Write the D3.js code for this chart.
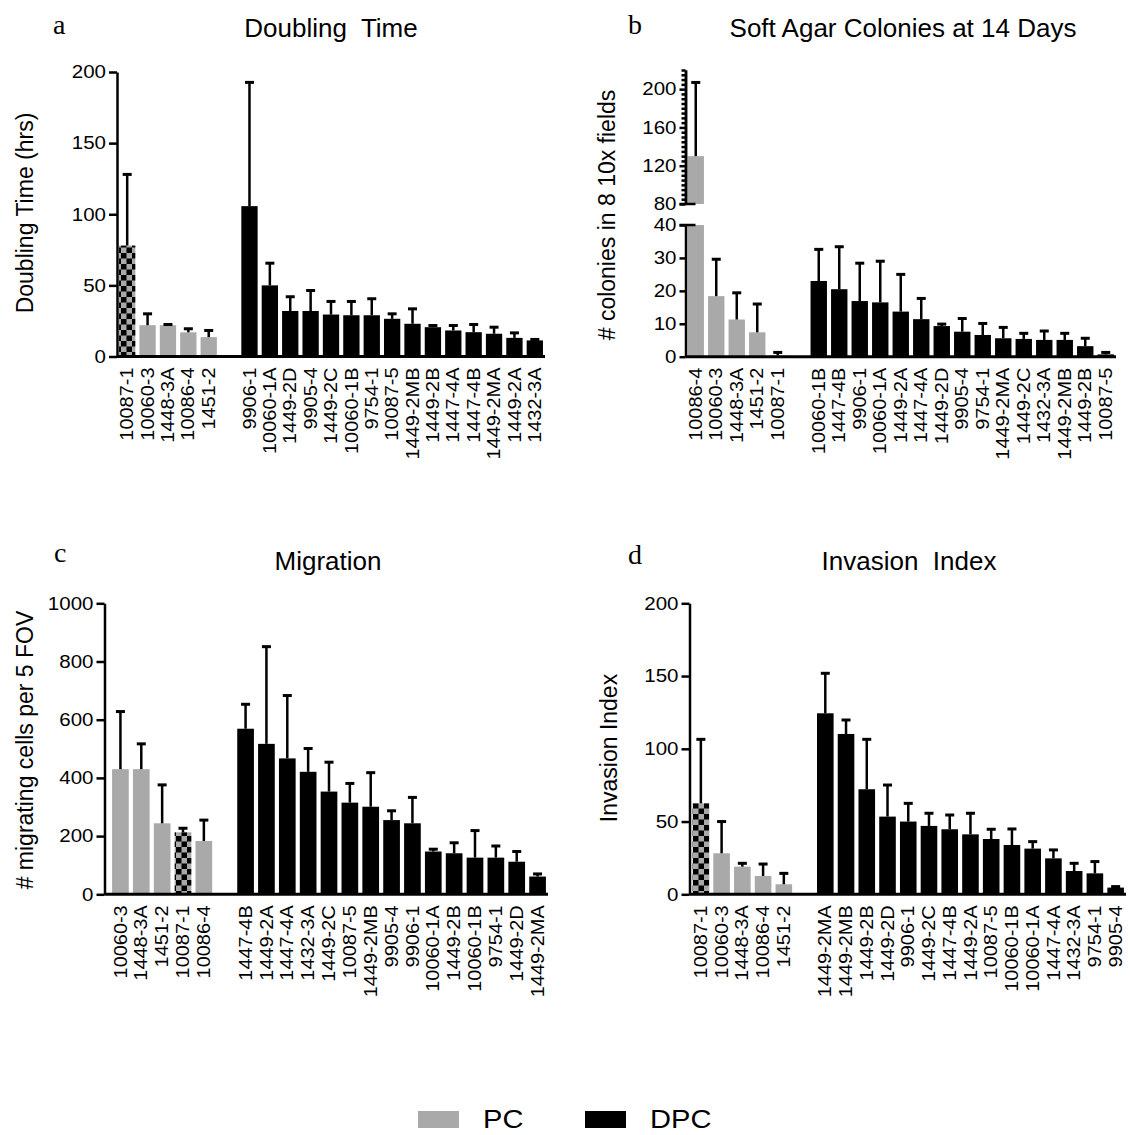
<!DOCTYPE html>
<html lang="en">
<head>
<meta charset="UTF-8">
<title>Cell line phenotypes: PC vs DPC</title>
<script src="https://d3js.org/d3.v7.min.js"></script>
<style>
  body { margin: 0; background: #fff; }
  svg { display: block; font-family: "Liberation Sans", Arial, sans-serif; }
  .axis path, .axis line { stroke: #000; stroke-width: 2.5px; }
  .axis text { font-size: 18px; fill: #000; }
  .cat { font-size: 17.5px; fill: #000; }
  .title { font-size: 26px; fill: #000; }
  .ytitle { font-size: 23px; fill: #000; }
  .letter { font-family: "Liberation Serif", "Times New Roman", serif; font-size: 28px; fill: #000; }
  .legend text { font-size: 26px; fill: #000; }
</style>
</head>
<body>
<svg id="fig" width="1130" height="1135"></svg>
<script>
// ---- data ----
// a: doubling time (hrs); err = length of the upper error bar
const catsA_pc  = ["10087-1", "10060-3", "1448-3A", "10086-4", "1451-2"];
const valsA_pc  = [78, 22, 22, 17, 13.6];
const errA_pc   = [50, 8, 0.5, 2.5, 4.7];
const catsA_dpc = ["9906-1", "10060-1A", "1449-2D", "9905-4", "1449-2C", "10060-1B", "9754-1", "10087-5",
                   "1449-2MB", "1449-2B", "1447-4A", "1447-4B", "1449-2MA", "1449-2A", "1432-3A"];
const valsA_dpc = [105.7, 50, 32, 32, 29.5, 29, 29, 26.5, 23, 20.6, 18.3, 17.1, 16, 13.1, 11.3];
const errA_dpc  = [87, 15.6, 10, 14.4, 9.2, 9.7, 11.6, 3.5, 10.5, 1.2, 3.5, 5.4, 4.6, 3.5, 0.7];

// b: soft agar colonies at 14 days
const catsB_pc  = ["10086-4", "10060-3", "1448-3A", "1451-2", "10087-1"];
const valsB_pc  = [130, 18.4, 11.3, 7.4, 0.4];
const errB_pc   = [77, 11.2, 8.1, 8.6, 0.9];
const catsB_dpc = ["10060-1B", "1447-4B", "9906-1", "10060-1A", "1449-2A", "1447-4A", "1449-2D", "9905-4",
                   "9754-1", "1449-2MA", "1449-2C", "1432-3A", "1449-2MB", "1449-2B", "10087-5"];
const valsB_dpc = [23, 20.5, 16.9, 16.5, 13.7, 11.4, 9.3, 7.6, 6.6, 5.6, 5.4, 5.1, 5.1, 3.2, 0.7];
const errB_dpc  = [9.6, 12.9, 11.5, 12.5, 11.3, 6.3, 0.6, 4, 3.5, 3.3, 1.7, 2.7, 2, 2.4, 0.6];

// c: migration
const catsC_pc  = ["10060-3", "1448-3A", "1451-2", "10087-1", "10086-4"];
const valsC_pc  = [430, 430, 244, 213, 183];
const errC_pc   = [198, 87, 132, 14, 72];
const catsC_dpc = ["1447-4B", "1449-2A", "1447-4A", "1432-3A", "1449-2C", "10087-5", "1449-2MB", "9905-4",
                   "9906-1", "10060-1A", "1449-2B", "10060-1B", "9754-1", "1449-2D", "1449-2MA"];
const valsC_dpc = [569, 517, 467, 421, 353, 315, 301, 255, 244, 147, 141, 126, 126, 112, 61];
const errC_dpc  = [84, 334, 216, 80, 101, 66, 117, 32, 89, 8, 36, 93, 40, 35, 9];

// d: invasion index
const catsD_pc  = ["10087-1", "10060-3", "1448-3A", "10086-4", "1451-2"];
const valsD_pc  = [62.5, 28.2, 19, 12.6, 6.9];
const errD_pc   = [44, 21.8, 2.3, 8.2, 7.5];
const catsD_dpc = ["1449-2MA", "1449-2MB", "1449-2B", "1449-2D", "9906-1", "1449-2C", "1447-4B", "1449-2A",
                   "10087-5", "10060-1B", "10060-1A", "1447-4A", "1432-3A", "9754-1", "9905-4"];
const valsD_dpc = [124.4, 110.2, 72.2, 53.4, 50, 47, 44.7, 41.2, 38, 33.9, 31.4, 24.7, 16, 14.4, 4.6];
const errD_dpc  = [27.5, 9.6, 34.3, 21.7, 12.5, 8.7, 9.8, 14.5, 6.7, 11, 4.8, 5.8, 5.3, 8.1, 0.7];

const ticksA = [0, 50, 100, 150, 200];
const ticksB_low = [0, 10, 20, 30, 40];
const ticksB_up = [80, 120, 160, 200];
const ticksC = [0, 200, 400, 600, 800, 1000];
const ticksD = [0, 50, 100, 150, 200];
const checkered = "10087-1";   // the PC line drawn with the checker fill
const legendKeys = ["PC", "DPC"];

// ---- drawing ----
const GRAY = "#a9a9a9";
const STRETCH = 1.14;   // the figure's lettering is wider than Arial
const svg = d3.select("#fig");

const pat = svg.append("defs").append("pattern")
  .attr("id", "checker").attr("width", 11).attr("height", 11)
  .attr("patternUnits", "userSpaceOnUse");
pat.append("rect").attr("width", 11).attr("height", 11).attr("fill", GRAY);
pat.append("rect").attr("width", 5.5).attr("height", 5.5).attr("fill", "#000");
pat.append("rect").attr("x", 5.5).attr("y", 5.5).attr("width", 5.5).attr("height", 5.5).attr("fill", "#000");

const panels = [
  { letter: "a", lx: 53, ly: 34, title: "Doubling\u00a0 Time", tx: 331, ty: 37,
    ytitle: "Doubling Time (hrs)", ytx: 25, yty: 213,
    pc: [catsA_pc, valsA_pc, errA_pc], dpc: [catsA_dpc, valsA_dpc, errA_dpc],
    axisX: 117, xr: [117, 545],
    y: d3.scaleLinear([0, 200], [356.5, 72]), ticks: ticksA },
  { letter: "b", lx: 628, ly: 34, title: "Soft Agar Colonies at 14 Days", tx: 903, ty: 37,
    ytitle: "# colonies in 8 10x fields", ytx: 607, yty: 215,
    pc: [catsB_pc, valsB_pc, errB_pc], dpc: [catsB_dpc, valsB_dpc, errB_dpc],
    axisX: 685.5, xr: [685.5, 1116],
    y: d3.scaleLinear([0, 40], [356.7, 225]), ticks: ticksB_low,
    yUp: d3.scaleLinear([80, 220], [204, 70]), ticksUp: ticksB_up },
  { letter: "c", lx: 54, ly: 562, title: "Migration", tx: 328, ty: 570,
    ytitle: "# migrating cells per 5 FOV", ytx: 25, yty: 750,
    pc: [catsC_pc, valsC_pc, errC_pc], dpc: [catsC_dpc, valsC_dpc, errC_dpc],
    axisX: 104.5, xr: [110, 548],
    y: d3.scaleLinear([0, 1000], [894.3, 603.3]), ticks: ticksC },
  { letter: "d", lx: 628, ly: 564, title: "Invasion\u00a0 Index", tx: 909, ty: 570,
    ytitle: "Invasion Index", ytx: 609, yty: 748,
    pc: [catsD_pc, valsD_pc, errD_pc], dpc: [catsD_dpc, valsD_dpc, errD_dpc],
    axisX: 689.5, xr: [690.5, 1126],
    y: d3.scaleLinear([0, 200], [894.3, 603.3]), ticks: ticksD }
];

function styleTicks(g, size, pad) {
  g.selectAll(".tick text")
    .attr("x", -(size + pad) / STRETCH)
    .attr("transform", `scale(${STRETCH},1)`);
}

panels.forEach(p => {
  const g = svg.append("g");
  const rows = [];
  p.pc[0].forEach((c, i) => rows.push({ cat: c, v: p.pc[1][i], e: p.pc[2][i], grp: "PC" }));
  p.dpc[0].forEach((c, i) => rows.push({ cat: c, v: p.dpc[1][i], e: p.dpc[2][i], grp: "DPC" }));
  const domain = [...p.pc[0], "gap", ...p.dpc[0]];
  const x = d3.scaleBand().domain(domain).range(p.xr).paddingInner(0.2).paddingOuter(0.1);
  const y0 = p.y(0);
  // value -> pixel, across the break for panel b
  const yv = v => (p.yUp && v > p.y.domain()[1]) ? p.yUp(v) : p.y(v);

  // bars
  rows.forEach(d => {
    const fill = d.grp === "DPC" ? "#000" : (d.cat === checkered && p.letter !== "b" ? "url(#checker)" : GRAY);
    if (p.yUp && d.v > p.y.domain()[1]) {
      const top = p.y.domain()[1];
      g.append("rect").attr("x", x(d.cat)).attr("width", x.bandwidth())
        .attr("y", p.y(top)).attr("height", y0 - p.y(top)).attr("fill", fill);
      const lo = p.yUp.domain()[0];
      g.append("rect").attr("x", x(d.cat)).attr("width", x.bandwidth())
        .attr("y", p.yUp(d.v)).attr("height", p.yUp(lo) - p.yUp(d.v)).attr("fill", fill);
    } else {
      g.append("rect").attr("x", x(d.cat)).attr("width", x.bandwidth())
        .attr("y", p.y(d.v)).attr("height", y0 - p.y(d.v)).attr("fill", fill);
    }
    // upper error bar
    const cx = x(d.cat) + x.bandwidth() / 2;
    const yt = yv(d.v + d.e);
    g.append("line").attr("x1", cx).attr("x2", cx).attr("y1", yv(d.v)).attr("y2", yt)
      .attr("stroke", "#000").attr("stroke-width", 2.5);
    g.append("line").attr("x1", cx - 4.5).attr("x2", cx + 4.5).attr("y1", yt).attr("y2", yt)
      .attr("stroke", "#000").attr("stroke-width", 3);
  });

  // baseline
  g.append("line").attr("x1", p.axisX).attr("x2", p.xr[1]).attr("y1", y0).attr("y2", y0)
    .attr("stroke", "#000").attr("stroke-width", 3);

  // y axis
  const tickSize = p.yUp ? 6 : 8;
  const ax = g.append("g").attr("class", "axis").attr("transform", `translate(${p.axisX},0)`)
    .call(d3.axisLeft(p.y).tickValues(p.ticks).tickFormat(d3.format("d"))
      .tickSize(tickSize).tickSizeOuter(0).tickPadding(3));
  styleTicks(ax, tickSize, 3);
  if (p.yUp) {
    const minor = d3.range(85, 221, 5).filter(v => !p.ticksUp.includes(v));
    g.append("g").attr("class", "axis").attr("transform", `translate(${p.axisX},0)`)
      .call(d3.axisLeft(p.yUp).tickValues(minor).tickSize(4).tickSizeOuter(0).tickFormat(""));
    const au = g.append("g").attr("class", "axis").attr("transform", `translate(${p.axisX},0)`)
      .call(d3.axisLeft(p.yUp).tickValues(p.ticksUp).tickFormat(d3.format("d"))
        .tickSize(tickSize).tickSizeOuter(0).tickPadding(3));
    styleTicks(au, tickSize, 3);
    // caps at both ends of the break
    [p.y(p.y.domain()[1]), p.yUp(p.yUp.domain()[0])].forEach(yy => {
      g.append("line").attr("x1", p.axisX - tickSize).attr("x2", p.axisX + 10)
        .attr("y1", yy).attr("y2", yy).attr("stroke", "#000").attr("stroke-width", 2.5);
    });
  }

  // category labels
  rows.forEach(d => {
    const cx = x(d.cat) + x.bandwidth() / 2;
    g.append("text").attr("class", "cat")
      .attr("transform", `translate(${cx},${y0 + 11}) rotate(-90) scale(${STRETCH},1)`)
      .attr("text-anchor", "end").attr("dy", "0.35em").text(d.cat);
  });

  // titles
  g.append("text").attr("class", "letter").attr("x", p.lx).attr("y", p.ly).text(p.letter);
  g.append("text").attr("class", "title").attr("x", p.tx).attr("y", p.ty)
    .attr("text-anchor", "middle").text(p.title);
  g.append("text").attr("class", "ytitle")
    .attr("transform", `translate(${p.ytx},${p.yty}) rotate(-90)`)
    .attr("text-anchor", "middle").attr("dy", "0.35em").text(p.ytitle);
});

// legend
const lg = svg.append("g").attr("class", "legend");
const legendX = [418, 585];
legendKeys.forEach((k, i) => {
  lg.append("rect").attr("x", legendX[i]).attr("y", 1111).attr("width", 41).attr("height", 17)
    .attr("fill", k === "PC" ? GRAY : "#000");
  lg.append("text").attr("transform", `translate(${legendX[i] + 65},1128) scale(1.12,1)`).text(k);
});
</script>
</body>
</html>
